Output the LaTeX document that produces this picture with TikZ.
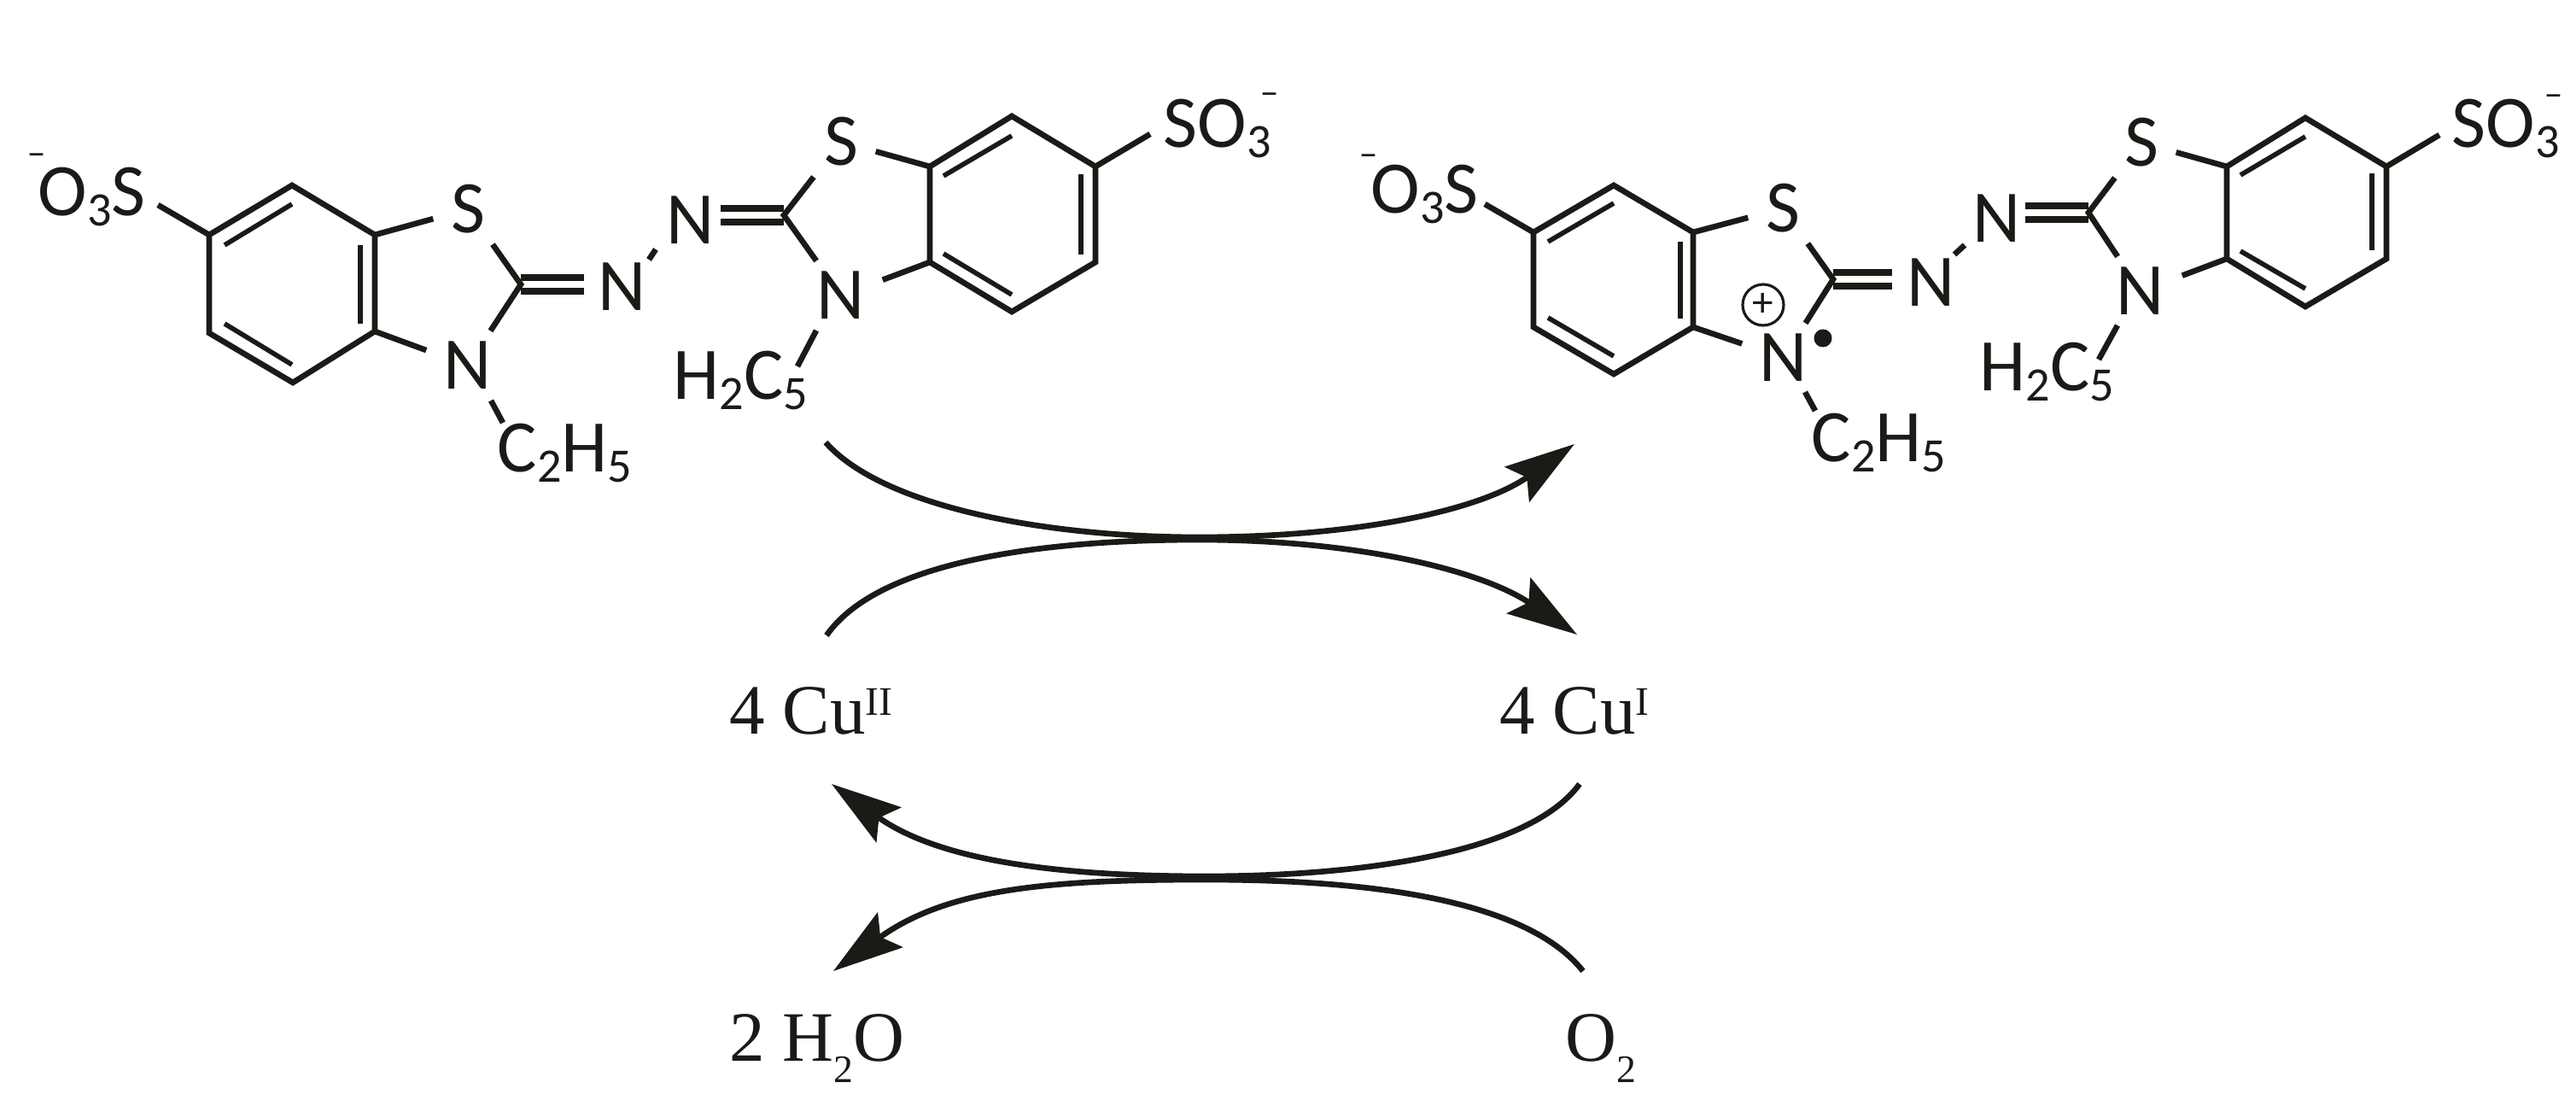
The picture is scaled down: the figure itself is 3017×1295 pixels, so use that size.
\documentclass[tikz,border=0pt]{standalone}
\usepackage{fontspec}
\usepackage{xcolor}
\usetikzlibrary{arrows.meta}
\newfontfamily\chemfont{Carlito}
\newfontfamily\labelfont{Liberation Serif}
\definecolor{inkblack}{HTML}{1A1A16}
\newcommand{\chemsub}[1]{\raisebox{-3.2pt}{\fontsize{16}{16}\selectfont #1}}
\newcommand{\labelsub}[1]{\raisebox{-7pt}{\fontsize{13}{13}\selectfont #1}}
\newcommand{\labelsup}[1]{\raisebox{6.5pt}{\fontsize{13.5}{13.5}\selectfont #1}}
\tikzset{
  bond/.style = {draw = inkblack, line width = 1.9pt},
  inner bond/.style = {draw = inkblack, line width = 1.6pt},
  double bond/.style = {draw = inkblack, line width = 2.1pt, double, double distance = .085cm},
  atom/.style = {text = inkblack, font = \chemfont\fontsize{24.7}{26}\selectfont, inner xsep = .2cm, inner ysep = .12cm},
  group/.style = {text = inkblack, font = \chemfont\fontsize{24.7}{26}\selectfont, inner sep = 0pt, anchor = base west},
  charge/.style = {text = inkblack, font = \chemfont\fontsize{12}{12}\selectfont, inner sep = 0pt, anchor = north},
  metal/.style = {text = inkblack, font = \labelfont\fontsize{23.6}{25}\selectfont, inner sep = 0pt, anchor = base west},
  cycle arrow/.style = {draw = inkblack, line width = 1.9pt, -{Stealth[length = .82cm, width = .5cm, inset = .14cm]}}
}

\begin{document}
\begin{tikzpicture}[x = .01cm, y = -.01cm]
\useasboundingbox (0,0) rectangle (3017,1295);

\coordinate (p1) at (342,217);
\coordinate (p2) at (245,275);
\coordinate (p3) at (245,390);
\coordinate (p4) at (343,448);
\coordinate (p5) at (439,388);
\coordinate (p6) at (439,275);
\coordinate (p7) at (263,287);
\coordinate (p8) at (342,239);
\coordinate (p9) at (422,287);
\coordinate (p10) at (422,379);
\coordinate (p11) at (263,379);
\coordinate (p12) at (342,427);

\coordinate (q1) at (1185,136);
\coordinate (q2) at (1089,195);
\coordinate (q3) at (1089,307);
\coordinate (q4) at (1185,365);
\coordinate (q5) at (1283,307);
\coordinate (q6) at (1283,195);
\coordinate (q7) at (1105,206);
\coordinate (q8) at (1185,159);
\coordinate (q9) at (1266,204);
\coordinate (q10) at (1266,298);
\coordinate (q11) at (1105,297);
\coordinate (q12) at (1185,345);

\coordinate (u1) at (1890,217);
\coordinate (u2) at (1796,272);
\coordinate (u3) at (1796,383);
\coordinate (u4) at (1890,438);
\coordinate (u5) at (1983,383);
\coordinate (u6) at (1983,272);
\coordinate (u7) at (1813,283);
\coordinate (u8) at (1890,238);
\coordinate (u9) at (1968,283);
\coordinate (u10) at (1968,373);
\coordinate (u11) at (1813,372);
\coordinate (u12) at (1890,417);

\coordinate (v1) at (2700,138);
\coordinate (v2) at (2608,195);
\coordinate (v3) at (2608,303);
\coordinate (v4) at (2700,359);
\coordinate (v5) at (2795,303);
\coordinate (v6) at (2795,195);
\coordinate (v7) at (2624,205);
\coordinate (v8) at (2700,160);
\coordinate (v9) at (2778,203);
\coordinate (v10) at (2778,293);
\coordinate (v11) at (2624,294);
\coordinate (v12) at (2700,338);

\foreach \r in {p,q,u,v} {
\draw[bond] (\r1) -- (\r2) -- (\r3) -- (\r4) -- (\r5) -- (\r6) -- cycle;
\draw[inner bond] (\r7) -- (\r8);
\draw[inner bond] (\r9) -- (\r10);
\draw[inner bond] (\r11) -- (\r12);
}

\node[atom] (S1) at (548,245) {S};
\node[atom] (N1) at (548,428) {N};
\node[atom] (N2) at (729,336) {N};
\node[atom] (N3) at (809,258) {N};
\node[atom] (S2) at (985,166) {S};
\node[atom] (N4) at (985,346) {N};
\node[atom] (S3) at (2088,244) {S};
\node[atom] (N5) at (2089,419) {N};
\node[atom] (N6) at (2262,331) {N};
\node[atom] (N7) at (2339,256) {N};
\node[atom] (S4) at (2508,167) {S};
\node[atom] (N8) at (2507,341) {N};

\coordinate (c1) at (610,333);
\coordinate (c2) at (918,252);
\coordinate (c3) at (2147,327);
\coordinate (c4) at (2446,249);
\coordinate (x1) at (684,333);
\coordinate (x2) at (844,252);
\coordinate (x3) at (2216,327);
\coordinate (x4) at (2372,249);

\draw[double bond] (c1) -- (x1);
\draw[double bond] (c2) -- (x2);
\draw[double bond] (c3) -- (x3);
\draw[double bond] (c4) -- (x4);
\draw[bond] (S1) -- (c1) -- (N1);
\draw[bond] (S2) -- (c2) -- (N4);
\draw[bond] (S3) -- (c3) -- (N5);
\draw[bond] (S4) -- (c4) -- (N8);
\draw[bond] (p6) -- (S1);
\draw[bond] (p5) -- (N1);
\draw[bond] (q2) -- (S2);
\draw[bond] (q3) -- (N4);
\draw[bond] (u6) -- (S3);
\draw[bond] (u5) -- (N5);
\draw[bond] (v2) -- (S4);
\draw[bond] (v3) -- (N8);

\coordinate (nn1) at (760,304);
\coordinate (nn2) at (768,292);
\coordinate (nn3) at (2289,298);
\coordinate (nn4) at (2301,287);
\draw[bond] (nn1) -- (nn2);
\draw[bond] (nn3) -- (nn4);

\coordinate (et1) at (575,469);
\coordinate (et2) at (589,495);
\coordinate (et3) at (956,387);
\coordinate (et4) at (934,429);
\coordinate (et5) at (2114,459);
\coordinate (et6) at (2126,481);
\coordinate (et7) at (2480,381);
\coordinate (et8) at (2458,421);
\draw[bond] (et1) -- (et2);
\draw[bond] (et3) -- (et4);
\draw[bond] (et5) -- (et6);
\draw[bond] (et7) -- (et8);

\coordinate (so1) at (185,240);
\coordinate (so2) at (1347,157);
\coordinate (so3) at (1739,239);
\coordinate (so4) at (2857,158);
\draw[bond] (p2) -- (so1);
\draw[bond] (q6) -- (so2);
\draw[bond] (u2) -- (so3);
\draw[bond] (v6) -- (so4);

\node[group] (G1) at (44,253) {O\chemsub{3}S};
\node[group] (G2) at (1362,173) {SO\chemsub{3}};
\node[group] (G3) at (1605,250) {O\chemsub{3}S};
\node[group] (G4) at (2871,173) {SO\chemsub{3}};
\node[group] (E1) at (582,553) {C\chemsub{2}H\chemsub{5}};
\node[group] (E2) at (788,468) {H\chemsub{2}C\chemsub{5}};
\node[group] (E3) at (2121,541) {C\chemsub{2}H\chemsub{5}};
\node[group] (E4) at (2318,458) {H\chemsub{2}C\chemsub{5}};

\node[charge] (M1) at (43,179) {−};
\node[charge] (M2) at (1487,108) {−};
\node[charge] (M3) at (1603,180) {−};
\node[charge] (M4) at (2991,110) {−};

\node[circle, draw = inkblack, line width = .9pt, minimum size = .48cm, inner sep = 0pt, text = inkblack, font = \chemfont\fontsize{14}{14}\selectfont] (P1) at (2065,357) {+};
\node[circle, fill = inkblack, minimum size = .21cm, inner sep = 0pt] (R1) at (2135,396) {};

\node[metal] (L1) at (854,860) {4 Cu\labelsup{II}};
\node[metal] (L2) at (1756,860) {4 Cu\labelsup{I}};
\node[metal] (L3) at (854,1243) {2 H\labelsub{2}O};
\node[metal] (L4) at (1833,1243) {O\labelsub{2}};

\coordinate (a1) at (967,518);
\coordinate (a2) at (1404,629);
\coordinate (a3) at (1844,520);
\coordinate (b1) at (968,744);
\coordinate (b2) at (1404,632);
\coordinate (b3) at (1847,743);
\coordinate (d1) at (1850,918);
\coordinate (d2) at (1412,1026);
\coordinate (d3) at (974,918);
\coordinate (f1) at (1854,1137);
\coordinate (f2) at (1412,1030);
\coordinate (f3) at (976,1137);

\draw[cycle arrow] (a1) .. controls (1035,595) and (1230,629) .. (a2) .. controls (1580,629) and (1730,600) .. (a3);
\draw[cycle arrow] (b1) .. controls (1030,655) and (1230,632) .. (b2) .. controls (1580,632) and (1730,665) .. (b3);
\draw[cycle arrow] (d1) .. controls (1790,1000) and (1590,1026) .. (d2) .. controls (1240,1026) and (1100,1008) .. (d3);
\draw[cycle arrow] (f1) .. controls (1785,1050) and (1590,1030) .. (f2) .. controls (1230,1030) and (1110,1040) .. (f3);
\end{tikzpicture}
\end{document}
